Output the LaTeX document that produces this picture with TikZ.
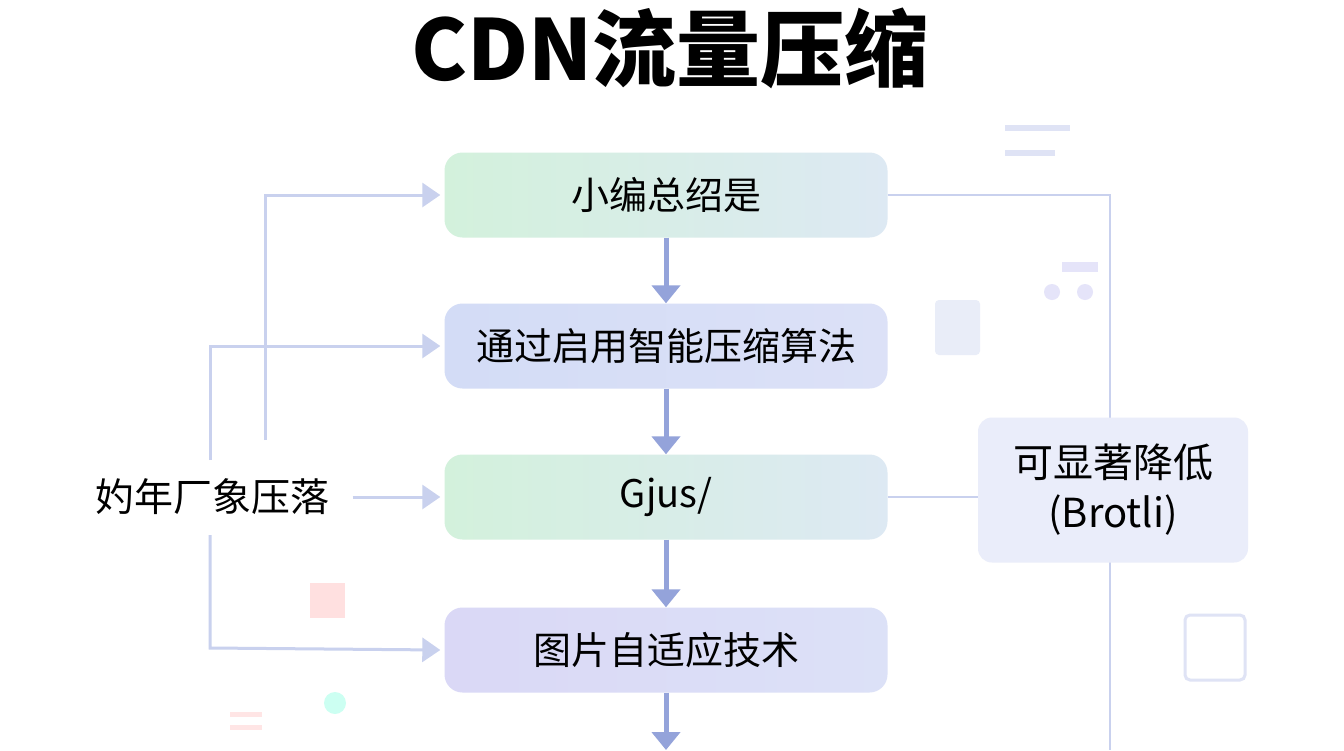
\documentclass[tikz,border=0pt]{standalone}
\usepackage{fontspec}
\setmainfont{Noto Sans CJK SC}
\usetikzlibrary{arrows.meta}
\definecolor{gA}{HTML}{D3F1DC}
\definecolor{gB}{HTML}{DDE9F3}
\definecolor{bA}{HTML}{D3DCF6}
\definecolor{bB}{HTML}{DCE1F7}
\definecolor{pA}{HTML}{DAD8F6}
\definecolor{arr}{HTML}{94A3DA}
\definecolor{ln}{HTML}{C9D1EE}
\begin{document}
\begin{tikzpicture}[x=1pt,y=-1pt,
  box/.style={rounded corners=18pt,minimum width=443pt,minimum height=85pt,font=\fontsize{38}{42}\selectfont,inner sep=0pt},
  down/.style={arr,line width=5pt,-{Triangle[length=18pt,width=28pt]}},
  side/.style={ln,line width=3pt,-{Triangle[length=18pt,width=24pt]}},
  plain/.style={ln,line width=2.5pt}]
\useasboundingbox[fill=white!97!blue!2] (0,0) rectangle (1344,750);
\node[font=\bfseries\fontsize{84}{90}\selectfont] (t) at (670,48) {CDN流量压缩};
% faint decorations
\fill[ln!60] (1005,125) rectangle (1070,131);
\fill[ln!60] (1005,150) rectangle (1055,156);
\fill[pA!70] (1062,262) rectangle (1098,272);
\fill[pA!70] (1052,292) circle (8); \fill[pA!70] (1085,292) circle (8);
\fill[ln!40,rounded corners=4pt] (935,300) rectangle (980,355);
\draw[ln!60,line width=3pt,rounded corners=5pt] (1185,615) rectangle (1245,680);
\fill[red!12] (310,583) rectangle (345,618);
\fill[green!25!cyan!20] (335,703) circle (11);
\fill[red!10] (230,712) rectangle (262,717);
\fill[red!10] (230,725) rectangle (262,730);
% right connector
\coordinate (r1) at (1110,195);
\coordinate (r2) at (1110,750);
\node[box,left color=gA,right color=gB] (b1) at (666,195) {小编总绍是};
\node[box,left color=bA,right color=bB] (b2) at (666,346) {通过启用智能压缩算法};
\node[box,left color=gA,right color=gB] (b3) at (666,497) {Gjus/};
\node[box,left color=pA,right color=bB] (b4) at (666,650) {图片自适应技术};
\draw[plain] (b1.east) -- (r1) -- (r2);
\node[rounded corners=14pt,fill=bB!60,minimum width=270pt,minimum height=145pt,align=center,font=\fontsize{40}{50}\selectfont] (rb) at (1113,490) {可显著降低\\(Brotli)};
\draw[plain] (b3.east) -- (rb.west|-b3.east);
\coordinate (bot) at (666,750);
\draw[down] (b1) -- (b2);
\draw[down] (b2) -- (b3);
\draw[down] (b3) -- (b4);
\draw[down] (b4) -- (bot);
\node[font=\fontsize{39}{44}\selectfont] (lt) at (212,497) {妁年厂象压落};
\coordinate (l1) at (265,440);
\coordinate (l1t) at (265,195);
\coordinate (l2b) at (210,648);
\coordinate (l2t) at (210,346);
\draw[side] (l1) -- (l1t) -- ([xshift=-4pt]b1.west);
\draw[side] (210,460) -- (l2t) -- ([xshift=-4pt]b2.west);
\draw[side] (210,535) -- (l2b) -- ([xshift=-4pt]b4.west);
\draw[side] ([xshift=20pt]lt.east) -- ([xshift=-4pt]b3.west);
\end{tikzpicture}
\end{document}
